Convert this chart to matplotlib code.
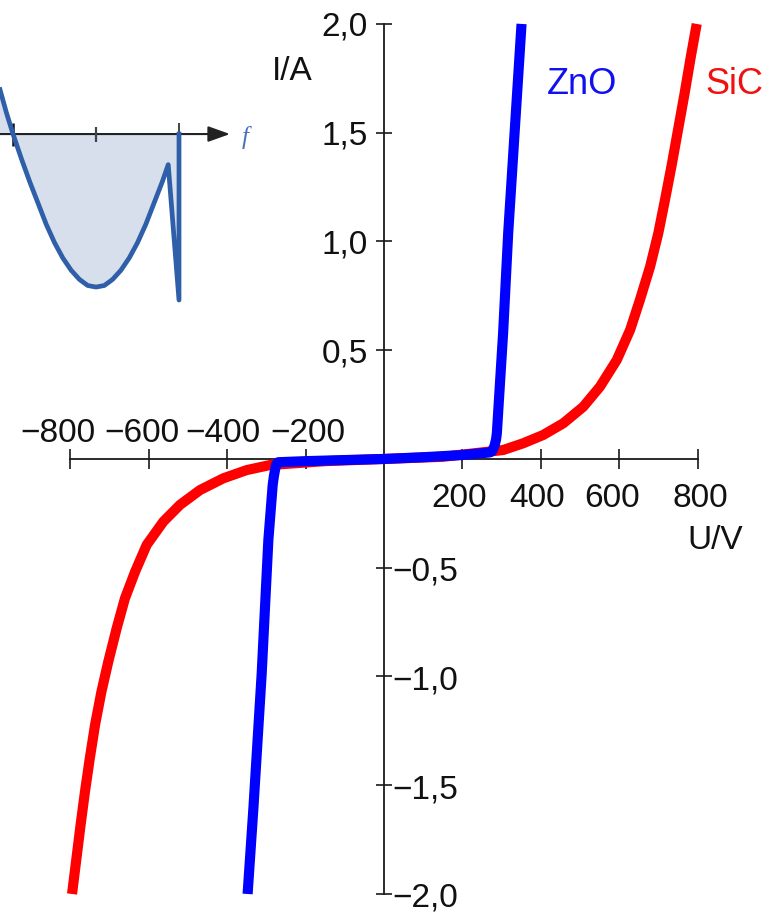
import matplotlib
matplotlib.use('Agg')
import matplotlib.pyplot as plt

# ---------------- data ----------------
sic_u = [-796, -785, -774, -763, -751, -737, -721, -703.5, -682, -661, -635, -605.5, -563, -520.5, -469.5,
         -410, -350, -291, -150, 0,
         150, 304, 355, 406, 457.5, 508.5, 551, 594, 628, 653, 679, 700, 717, 734, 751, 767, 783, 798]
sic_i = [-2.0, -1.84, -1.68, -1.53, -1.38, -1.22, -1.07, -0.932, -0.778, -0.641, -0.518, -0.395, -0.288, -0.211,
         -0.143, -0.089, -0.051, -0.028, -0.01, 0.0,
         0.01, 0.041, 0.072, 0.110, 0.164, 0.240, 0.332, 0.455, 0.593, 0.731, 0.884, 1.038, 1.191, 1.35, 1.52,
         1.68, 1.85, 2.0]

zno_u = [-348, -333, -312, -295, -284, -281, -278, -275, -270, -200, -100, 0, 100, 200, 270, 276, 282, 286,
         288, 304, 317, 351]
zno_i = [-2.0, -1.6, -0.985, -0.372, -0.12, -0.08, -0.05, -0.025, -0.015, -0.01, -0.005, 0.0, 0.008, 0.018,
         0.03, 0.036, 0.06, 0.09, 0.118, 0.58, 1.04, 2.0]

xticks = [-800, -600, -400, -200, 200, 400, 600, 800]
xlabels_neg = ['−800', '−600', '−400', '−200']
xlabels_pos = ['200', '400', '600', '800']
yticks = [-2.0, -1.5, -1.0, -0.5, 0.5, 1.0, 1.5, 2.0]
ylabels_pos = ['0,5', '1,0', '1,5', '2,0']
ylabels_neg = ['−2,0', '−1,5', '−1,0', '−0,5']

# inset curve (arbitrary units)
ins_u = [0.843, 0.92, 1.0, 1.1, 1.2, 1.3, 1.4, 1.5, 1.6, 1.7, 1.8, 1.9, 2.0, 2.1, 2.2, 2.3, 2.4, 2.5,
         2.6, 2.7, 2.8, 2.87, 3.0, 3.0]
ins_v = [0.29, 0.14, 0.0, -0.16, -0.31, -0.45, -0.59, -0.71, -0.81, -0.89, -0.95, -0.99, -1.0, -0.99,
         -0.95, -0.89, -0.81, -0.71, -0.59, -0.45, -0.31, -0.2, -1.085, 0.0]
ins_ticks = [1, 2, 3]

# ---------------- figure ----------------
FONT = 'Liberation Sans'
fig = plt.figure(figsize=(7.8, 9.14), dpi=100)
ax = fig.add_axes([0, 0, 1, 1])
ax.set_xlim(-979.8, 1010.5)
ax.set_ylim(-2.092, 2.110)
ax.patch.set_alpha(0)

axis_col = '#1a1a1a'
for s in ['top', 'right']:
    ax.spines[s].set_visible(False)
ax.spines['left'].set_position(('data', 0))
ax.spines['bottom'].set_position(('data', 0))
ax.spines['left'].set_bounds(-2.0, 2.0)
ax.spines['bottom'].set_bounds(-800, 800)
for s in ['left', 'bottom']:
    ax.spines[s].set_color(axis_col)
    ax.spines[s].set_linewidth(1.3)
    ax.spines[s].set_zorder(1)
ax.set_xticks(xticks)
ax.set_yticks(yticks)
ax.tick_params(axis='x', direction='inout', length=14, width=1.2, color=axis_col, labelbottom=False)
ax.tick_params(axis='y', direction='inout', length=12, width=1.2, color=axis_col, labelleft=False)

# curves
ax.plot(sic_u, sic_i, color='#ff0000', lw=7.3, solid_capstyle='butt', solid_joinstyle='round', zorder=3)
ax.plot(zno_u, zno_i, color='#0000ff', lw=7.3, solid_capstyle='butt', solid_joinstyle='round', zorder=4)

# tick labels
tfs = 24
neg_shift = [-2.5, 3, 6, 12]
for v, lab, sh in zip(xticks[:4], xlabels_neg, neg_shift):
    ax.annotate(lab, xy=(v, 0), xytext=(27.5 + sh, 17), textcoords='offset pixels',
                ha='right', va='baseline', fontsize=tfs, family=FONT, color='#111')
pos_shift = [-3, -4, -7, 3]
for v, lab, sh in zip(xticks[4:], xlabels_pos, pos_shift):
    ax.annotate(lab, xy=(v, 0), xytext=(sh, -48), textcoords='offset pixels',
                ha='center', va='baseline', fontsize=tfs, family=FONT, color='#111')
for v, lab in zip(yticks[4:], ylabels_pos):
    ax.annotate(lab, xy=(0, v), xytext=(-16, -12), textcoords='offset pixels',
                ha='right', va='baseline', fontsize=tfs, family=FONT, color='#111')
for v, lab in zip(yticks[:4], ylabels_neg):
    ax.annotate(lab, xy=(0, v), xytext=(8, -13), textcoords='offset pixels',
                ha='left', va='baseline', fontsize=tfs, family=FONT, color='#111')

# axis labels and series labels
ax.text(-235, 1.779, 'I/A', ha='center', va='center', fontsize=24, family=FONT, color='#111')
ax.text(845, -0.377, 'U/V', ha='center', va='center', fontsize=24, family=FONT, color='#111')
ax.text(505, 1.72, 'ZnO', ha='center', va='center', fontsize=26, family=FONT, color='#1010f0')
ax.text(819, 1.72, 'SiC', ha='left', va='center', fontsize=26, family=FONT, color='#f01010')

# ---------------- inset ----------------
ax2 = fig.add_axes([0, 1 - 310 / 914, 260 / 780, 250 / 914])
ax2.set_xlim(0.843, 3.976)
ax2.set_ylim(-1.150, 0.484)
ax2.axis('off')
poly_u = ins_u + [ins_u[0]]
poly_v = ins_v + [0.0]
ax2.fill(poly_u, poly_v, color='#d6dfeb', lw=0, zorder=1)
ax2.annotate('', xy=(3.614, 0), xytext=(0.843, 0),
             arrowprops=dict(arrowstyle='-|>,head_length=0.95,head_width=0.34', lw=1.5,
                             color='#222222', mutation_scale=14, shrinkA=0, shrinkB=0), zorder=2)
ax2.vlines([ins_ticks[0]], -0.075, 0.072, color='#111', lw=1.8, zorder=2)
ax2.vlines([ins_ticks[1]], -0.05, 0.045, color='#444', lw=1.6, zorder=2)
ax2.vlines([ins_ticks[2]], 0.0, 0.075, color='#444', lw=1.4, zorder=2)
ax2.plot(ins_u, ins_v, color='#2e5fa8', lw=3.4, solid_joinstyle='round', zorder=3)
ax2.text(3.795, -0.02, 'f', fontstyle='italic', family='Liberation Serif', color='#4a6fc0',
         fontsize=18, ha='center', va='center')

fig.savefig('out.png', dpi=100)
